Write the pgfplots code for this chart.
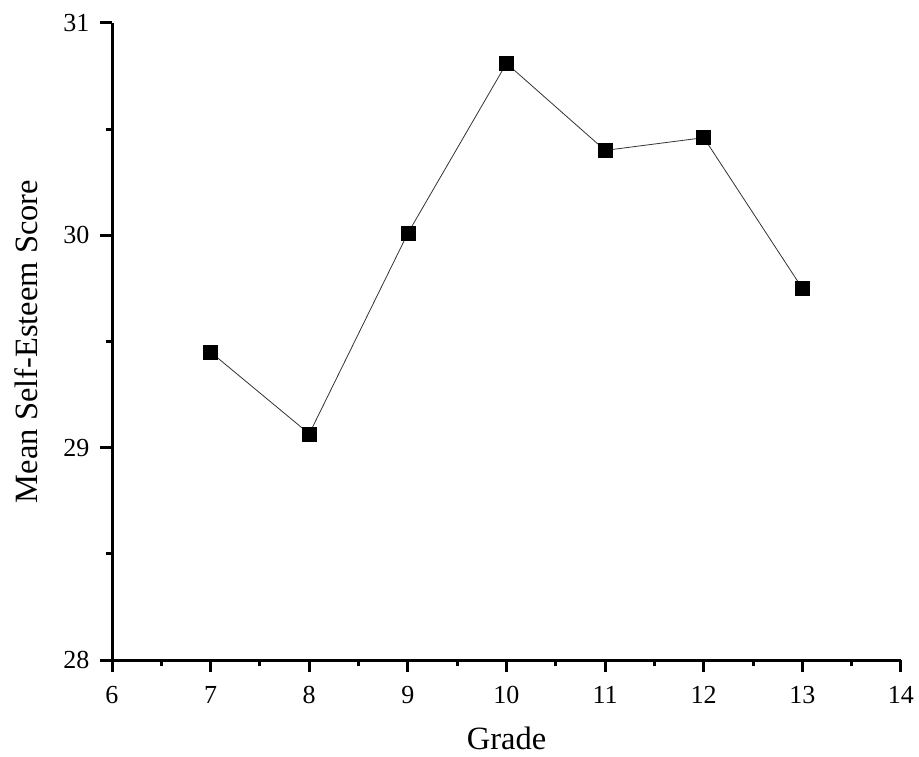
\documentclass[border=0pt]{standalone}
\usepackage{pgfplots}
\pgfplotsset{compat=1.18}
\usepackage{fontspec}
\setmainfont{Liberation Serif}
\begin{document}
\begin{tikzpicture}
\useasboundingbox (0,0) rectangle (919pt,756pt);
\begin{axis}[
  at={(112pt,96pt)}, anchor=south west,
  scale only axis, width=789pt, height=637pt,
  xmin=6, xmax=14, ymin=28, ymax=31,
  axis x line*=bottom, axis y line*=left,
  axis line style={line width=3pt, -},
  every outer x axis line/.append style={line width=3pt},
  every outer y axis line/.append style={line width=3pt},
  xtick={6,...,14}, ytick={28,29,30,31},
  minor x tick num=1, minor y tick num=1,
  tick align=outside,
  major tick length=12pt, minor tick length=6pt,
  major tick style={black, line width=3pt},
  minor tick style={black, line width=3pt},
  tick label style={font=\fontsize{26}{30}\selectfont},
  /pgf/number format/assume math mode=true,
  xticklabel style={yshift=-11pt},
  yticklabel style={xshift=-7pt},
  xlabel={Grade}, ylabel={Mean Self-Esteem Score},
  label style={font=\fontsize{32.5}{38}\selectfont},
  xlabel style={at={(axis description cs:0.5,-0.1225)}, anchor=center},
  ylabel style={at={(axis description cs:-0.109,0.5)}, anchor=center},
  clip=false,
]
\addplot[black!80, line width=0.8pt, mark=square*, mark size=7pt,
  mark options={fill=black, draw=black, line width=0.5pt}]
  coordinates {(7,29.45) (8,29.065) (9,30.01) (10,30.81) (11,30.40) (12,30.46) (13,29.75)};
\end{axis}
\end{tikzpicture}
\end{document}
